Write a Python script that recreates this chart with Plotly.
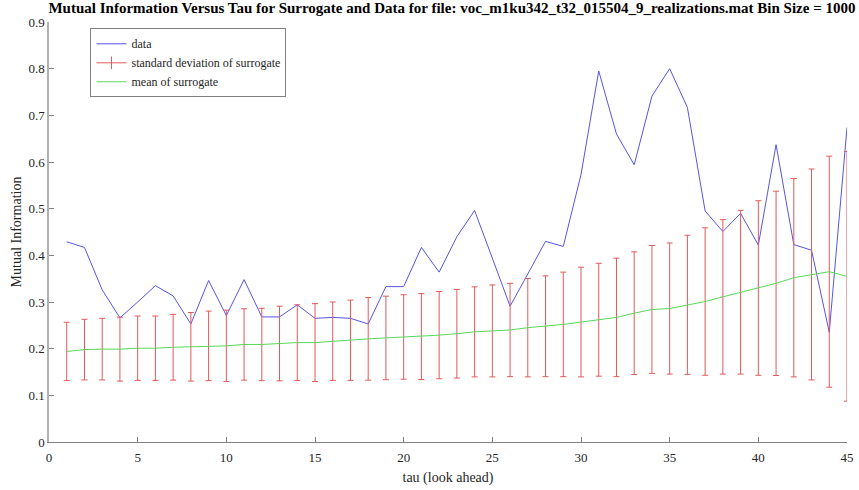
import plotly.graph_objects as go

tau = list(range(1, 46))

data_mi = [0.429, 0.417, 0.326, 0.266, 0.300, 0.335, 0.313, 0.253, 0.346, 0.271,
           0.348, 0.268, 0.268, 0.294, 0.265, 0.267, 0.265, 0.253, 0.333, 0.333,
           0.417, 0.364, 0.440, 0.496, 0.394, 0.291, 0.360, 0.430, 0.419, 0.573,
           0.795, 0.660, 0.594, 0.741, 0.800, 0.717, 0.495, 0.451, 0.490, 0.422,
           0.637, 0.423, 0.411, 0.235, 0.674]

surr_mean = [0.194, 0.198, 0.199, 0.199, 0.201, 0.201, 0.203, 0.204, 0.206, 0.206,
             0.209, 0.209, 0.211, 0.213, 0.213, 0.216, 0.218, 0.221, 0.223, 0.225,
             0.226, 0.229, 0.232, 0.236, 0.238, 0.240, 0.245, 0.248, 0.252, 0.257,
             0.262, 0.267, 0.276, 0.284, 0.286, 0.294, 0.301, 0.311, 0.321, 0.330,
             0.340, 0.352, 0.359, 0.365, 0.355]

surr_std = [0.0625, 0.065, 0.066, 0.0685, 0.069, 0.069, 0.0705, 0.0735, 0.0745, 0.0765,
            0.0765, 0.0775, 0.080, 0.081, 0.0835, 0.084, 0.086, 0.0885, 0.0895, 0.0905,
            0.092, 0.0935, 0.095, 0.0965, 0.0985, 0.100, 0.1055, 0.108, 0.112, 0.1175,
            0.121, 0.127, 0.1315, 0.137, 0.1405, 0.149, 0.158, 0.1655, 0.1755, 0.187,
            0.1975, 0.2125, 0.226, 0.2475, 0.2675]

x_ticks = [0, 5, 10, 15, 20, 25, 30, 35, 40, 45]
y_ticks = [0, 0.1, 0.2, 0.3, 0.4, 0.5, 0.6, 0.7, 0.8, 0.9]
y_tick_labels = ["0", "0.1", "0.2", "0.3", "0.4", "0.5", "0.6", "0.7", "0.8", "0.9"]

BLUE = "rgb(85,85,230)"
RED = "rgb(225,90,90)"
GREEN = "rgb(90,215,90)"
FONT = "Liberation Serif"

fig = go.Figure()

fig.add_trace(go.Scatter(
    x=tau, y=data_mi, mode="lines", name="data",
    line=dict(color=BLUE, width=1),
))

fig.add_trace(go.Scatter(
    x=tau, y=surr_mean, mode="markers", name="standard deviation of surrogate",
    marker=dict(size=0.1, color=RED, opacity=0),
    error_y=dict(type="data", array=surr_std, visible=True, color=RED,
                 thickness=1, width=3),
    showlegend=False,
))
# legend entry for the error bars
fig.add_trace(go.Scatter(
    x=[None], y=[None], mode="lines+markers", name="standard deviation of surrogate",
    line=dict(color=RED, width=1),
    marker=dict(symbol="line-ns-open", size=9, color=RED, line=dict(color=RED, width=1)),
))

fig.add_trace(go.Scatter(
    x=tau, y=surr_mean, mode="lines", name="mean of surrogate",
    line=dict(color=GREEN, width=1),
))

fig.update_layout(
    width=859, height=490,
    margin=dict(l=49, r=12, t=22, b=48),
    paper_bgcolor="white", plot_bgcolor="white",
    font=dict(family=FONT, size=13, color="#262626"),
    title=dict(
        text="<b>Mutual Information Versus Tau for Surrogate and Data for file: voc_m1ku342_t32_015504_9_realizations.mat Bin Size = 1000</b>",
        x=0.505, xref="paper", xanchor="center", y=0.994, yref="container", yanchor="top",
        font=dict(family=FONT, size=15, color="black"),
    ),
    legend=dict(
        x=0.052, y=0.985, xanchor="left", yanchor="top",
        bordercolor="#808080", borderwidth=1, bgcolor="white",
        font=dict(family=FONT, size=12, color="#262626"),
        tracegroupgap=0, itemwidth=30,
    ),
    xaxis=dict(
        range=[0, 45], tickvals=x_ticks, ticks="inside", ticklen=5,
        tickcolor="#808080", showline=True, linecolor="#808080", linewidth=1,
        showgrid=False, zeroline=False, mirror=False, automargin=False,
        ticklabelstandoff=3,
        title=dict(text="tau (look ahead)", standoff=8, font=dict(family=FONT, size=14)),
        tickfont=dict(family=FONT, size=13),
    ),
    yaxis=dict(
        range=[0, 0.9], tickvals=y_ticks, ticktext=y_tick_labels, ticks="inside", ticklen=5,
        tickcolor="#808080", showline=True, linecolor="#b0b0b0", linewidth=1.5,
        showgrid=False, zeroline=False, mirror=False, automargin=False,
        title=dict(text="Mutual Information", standoff=4, font=dict(family=FONT, size=14)),
        tickfont=dict(family=FONT, size=13),
    ),
)

fig.write_html(
    "out.html",
    config={"displayModeBar": False},
    post_script="document.body.style.margin='0';document.body.style.overflow='hidden';",
)
